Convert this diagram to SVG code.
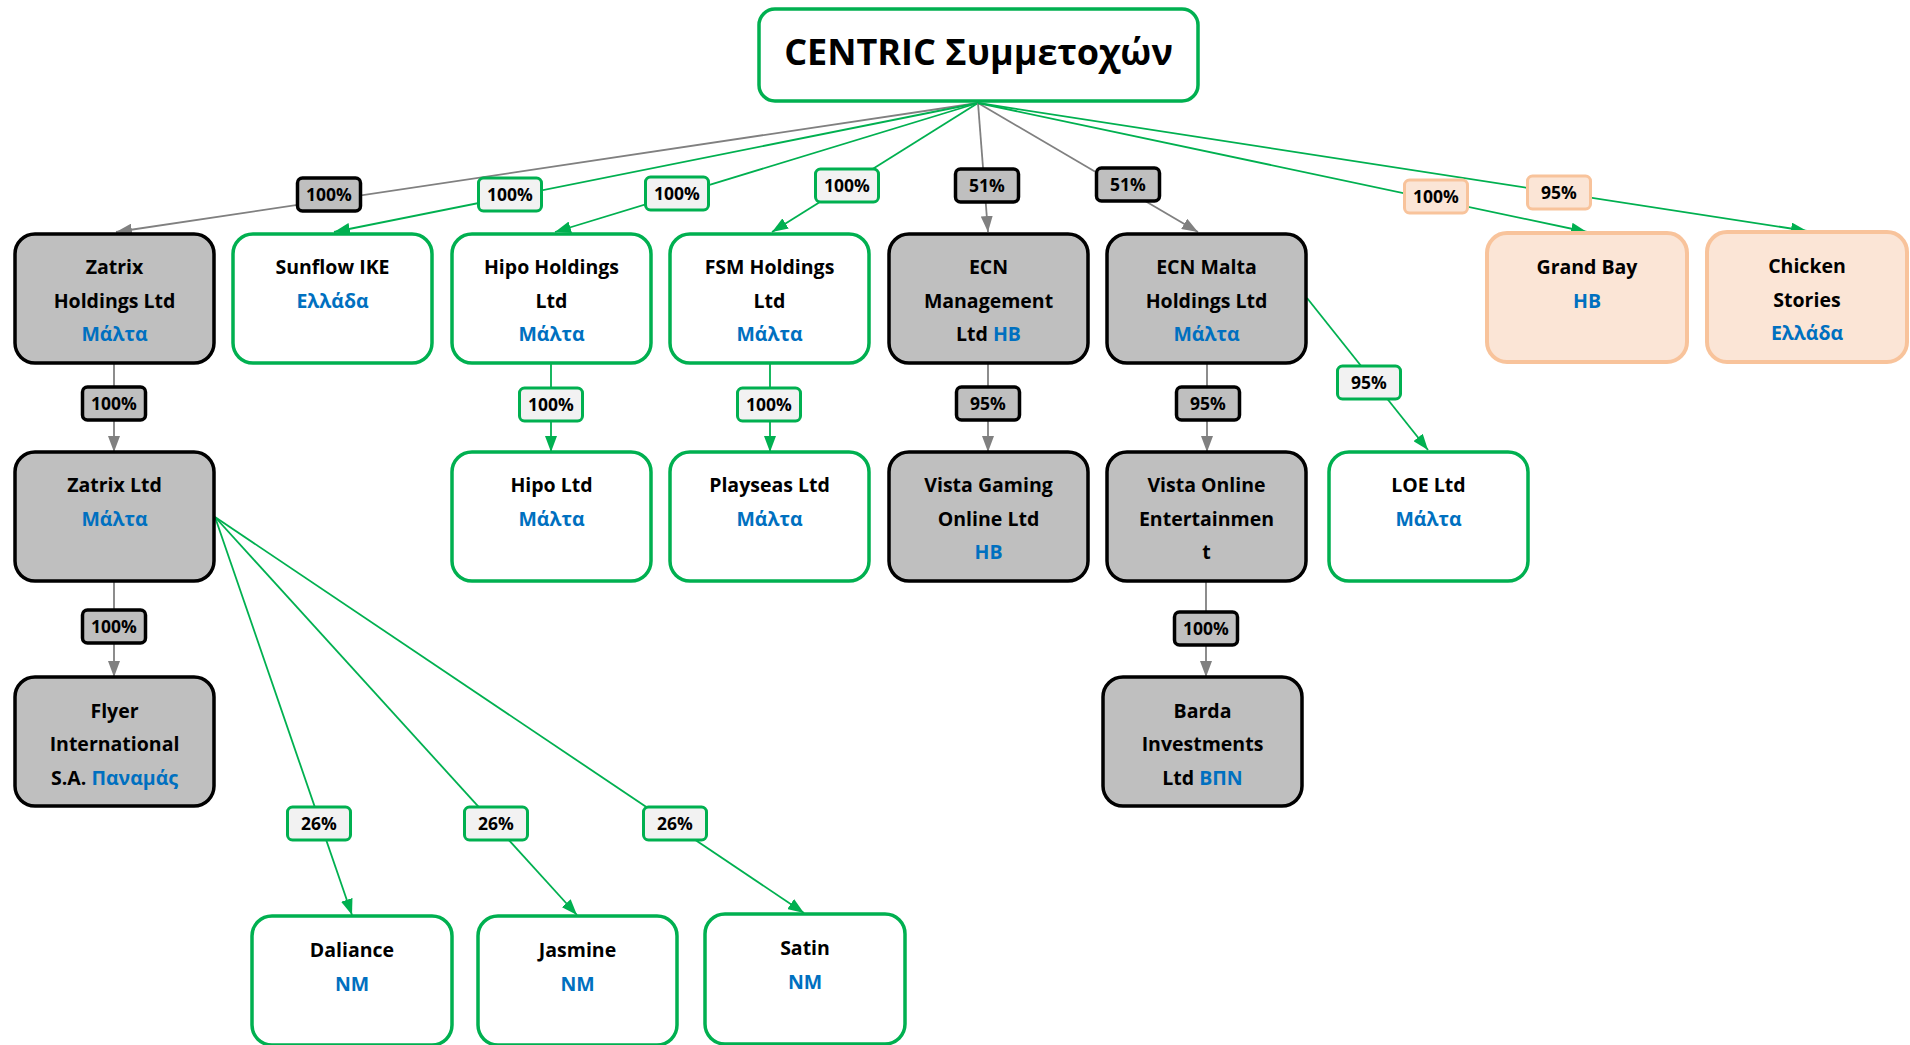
<svg xmlns="http://www.w3.org/2000/svg" width="1910" height="1045" viewBox="0 0 1910 1045">
<defs>
<style>
.t{font-family:"Open Sans","Noto Sans","DejaVu Sans",sans-serif;font-weight:700;font-size:19.5px;text-anchor:middle;fill:#000}
.b{fill:#0070C0}
.title{font-size:36px;font-weight:700}
.lt{font-size:17.5px}
.ng{fill:#BFBFBF;stroke:#000;stroke-width:3.5}
.nw{fill:#FFFFFF;stroke:#00B050;stroke-width:3.5}
.np{fill:#FBE5D6;stroke:#F8C39B;stroke-width:4}
.lg{fill:#BFBFBF;stroke:#000;stroke-width:3.5}
.lw{fill:#F2F2F2;stroke:#00B050;stroke-width:3}
.lp{fill:#FBE5D6;stroke:#F8C39B;stroke-width:3}
.cg{fill:none;stroke:#808080;stroke-width:1.8;marker-end:url(#ag)}
.cw{fill:none;stroke:#00B050;stroke-width:1.8;marker-end:url(#aw)}
</style>
<marker id="ag" markerUnits="userSpaceOnUse" markerWidth="16" markerHeight="12" refX="16" refY="6" orient="auto"><path d="M0,0 L16,6 L0,12 z" fill="#808080"/></marker>
<marker id="aw" markerUnits="userSpaceOnUse" markerWidth="16" markerHeight="12" refX="16" refY="6" orient="auto"><path d="M0,0 L16,6 L0,12 z" fill="#00B050"/></marker>
</defs>
<rect width="1910" height="1045" fill="#FFFFFF"/>

<g id="connectors">
<path class="cg" d="M978,103 L116,232"/>
<path class="cw" d="M978,103 L334,232"/>
<path class="cw" d="M978,103 L555,232"/>
<path class="cw" d="M978,103 L772,232"/>
<path class="cg" d="M978,103 L988,232"/>
<path class="cg" d="M978,103 L1198,232"/>
<path class="cw" d="M978,103 L1587,232"/>
<path class="cw" d="M978,103 L1807,231"/>
<path class="cg" d="M114,363 L114,452"/>
<path class="cg" d="M114,581 L114,677"/>
<path class="cw" d="M551,363 L551,452"/>
<path class="cw" d="M770,363 L770,452"/>
<path class="cg" d="M988,363 L988,452"/>
<path class="cg" d="M1207,363 L1207,452"/>
<path class="cg" d="M1206,581 L1206,677"/>
<path class="cw" d="M1307,298 L1428,450"/>
<path class="cw" d="M215,517 L352,915"/>
<path class="cw" d="M215,517 L577,915"/>
<path class="cw" d="M215,517 L804,913"/>
</g>

<g id="labels">
<g><rect class="lg" x="297.5" y="178" width="63" height="33" rx="5"/><text class="t lt" x="329" y="201">100%</text></g>
<g><rect class="lw" x="478.5" y="178" width="63" height="33" rx="5"/><text class="t lt" x="510" y="201">100%</text></g>
<g><rect class="lw" x="645.5" y="177" width="63" height="33" rx="5"/><text class="t lt" x="677" y="200">100%</text></g>
<g><rect class="lw" x="815.5" y="169" width="63" height="33" rx="5"/><text class="t lt" x="847" y="192">100%</text></g>
<g><rect class="lg" x="955.5" y="169" width="63" height="33" rx="5"/><text class="t lt" x="987" y="192">51%</text></g>
<g><rect class="lg" x="1096.5" y="168" width="63" height="33" rx="5"/><text class="t lt" x="1128" y="191">51%</text></g>
<g><rect class="lp" x="1404.5" y="180" width="63" height="33" rx="5"/><text class="t lt" x="1436" y="203">100%</text></g>
<g><rect class="lp" x="1527.5" y="176" width="63" height="33" rx="5"/><text class="t lt" x="1559" y="199">95%</text></g>
<g><rect class="lg" x="82.5" y="387" width="63" height="33" rx="5"/><text class="t lt" x="114" y="410">100%</text></g>
<g><rect class="lg" x="82.5" y="610" width="63" height="33" rx="5"/><text class="t lt" x="114" y="633">100%</text></g>
<g><rect class="lw" x="519.5" y="388" width="63" height="33" rx="5"/><text class="t lt" x="551" y="411">100%</text></g>
<g><rect class="lw" x="737.5" y="388" width="63" height="33" rx="5"/><text class="t lt" x="769" y="411">100%</text></g>
<g><rect class="lg" x="956.5" y="387" width="63" height="33" rx="5"/><text class="t lt" x="988" y="410">95%</text></g>
<g><rect class="lg" x="1176.5" y="387" width="63" height="33" rx="5"/><text class="t lt" x="1208" y="410">95%</text></g>
<g><rect class="lw" x="1337.5" y="366" width="63" height="33" rx="5"/><text class="t lt" x="1369" y="389">95%</text></g>
<g><rect class="lg" x="1174.5" y="612" width="63" height="33" rx="5"/><text class="t lt" x="1206" y="635">100%</text></g>
<g><rect class="lw" x="287.5" y="807" width="63" height="33" rx="5"/><text class="t lt" x="319" y="830">26%</text></g>
<g><rect class="lw" x="464.5" y="807" width="63" height="33" rx="5"/><text class="t lt" x="496" y="830">26%</text></g>
<g><rect class="lw" x="643.5" y="807" width="63" height="33" rx="5"/><text class="t lt" x="675" y="830">26%</text></g>
</g>

<g id="root"><rect class="nw" x="759" y="9" width="439" height="92" rx="16"/><text class="t title" x="978.5" y="65">CENTRIC Συμμετοχών</text></g>

<g id="zatrix-holdings"><rect class="ng" x="15" y="234" width="199" height="129" rx="20"/><text class="t" x="114.5" y="274">Zatrix</text><text class="t" x="114.5" y="308">Holdings Ltd</text><text class="t b" x="114.5" y="341">Μάλτα</text></g>
<g id="sunflow"><rect class="nw" x="233" y="234" width="199" height="129" rx="20"/><text class="t" x="332.5" y="274">Sunflow IKE</text><text class="t b" x="332.5" y="308">Ελλάδα</text></g>
<g id="hipo-holdings"><rect class="nw" x="452" y="234" width="199" height="129" rx="20"/><text class="t" x="551.5" y="274">Hipo Holdings</text><text class="t" x="551.5" y="308">Ltd</text><text class="t b" x="551.5" y="341">Μάλτα</text></g>
<g id="fsm-holdings"><rect class="nw" x="670" y="234" width="199" height="129" rx="20"/><text class="t" x="769.5" y="274">FSM Holdings</text><text class="t" x="769.5" y="308">Ltd</text><text class="t b" x="769.5" y="341">Μάλτα</text></g>
<g id="ecn-management"><rect class="ng" x="889" y="234" width="199" height="129" rx="20"/><text class="t" x="988.5" y="274">ECN</text><text class="t" x="988.5" y="308">Management</text><text class="t" x="988.5" y="341">Ltd <tspan class="b">HB</tspan></text></g>
<g id="ecn-malta"><rect class="ng" x="1107" y="234" width="199" height="129" rx="20"/><text class="t" x="1206.5" y="274">ECN Malta</text><text class="t" x="1206.5" y="308">Holdings Ltd</text><text class="t b" x="1206.5" y="341">Μάλτα</text></g>
<g id="grand-bay"><rect class="np" x="1487" y="233" width="200" height="129" rx="20"/><text class="t" x="1587" y="274">Grand Bay</text><text class="t b" x="1587" y="308">HB</text></g>
<g id="chicken-stories"><rect class="np" x="1707" y="232" width="200" height="130" rx="20"/><text class="t" x="1807" y="273">Chicken</text><text class="t" x="1807" y="307">Stories</text><text class="t b" x="1807" y="340">Ελλάδα</text></g>

<g id="zatrix-ltd"><rect class="ng" x="15" y="452" width="199" height="129" rx="20"/><text class="t" x="114.5" y="492">Zatrix Ltd</text><text class="t b" x="114.5" y="526">Μάλτα</text></g>
<g id="hipo-ltd"><rect class="nw" x="452" y="452" width="199" height="129" rx="20"/><text class="t" x="551.5" y="492">Hipo Ltd</text><text class="t b" x="551.5" y="526">Μάλτα</text></g>
<g id="playseas"><rect class="nw" x="670" y="452" width="199" height="129" rx="20"/><text class="t" x="769.5" y="492">Playseas Ltd</text><text class="t b" x="769.5" y="526">Μάλτα</text></g>
<g id="vista-gaming"><rect class="ng" x="889" y="452" width="199" height="129" rx="20"/><text class="t" x="988.5" y="492">Vista Gaming</text><text class="t" x="988.5" y="526">Online Ltd</text><text class="t b" x="988.5" y="559">HB</text></g>
<g id="vista-online"><rect class="ng" x="1107" y="452" width="199" height="129" rx="20"/><text class="t" x="1206.5" y="492">Vista Online</text><text class="t" x="1206.5" y="526">Entertainmen</text><text class="t" x="1206.5" y="559">t</text></g>
<g id="loe"><rect class="nw" x="1329" y="452" width="199" height="129" rx="20"/><text class="t" x="1428.5" y="492">LOE Ltd</text><text class="t b" x="1428.5" y="526">Μάλτα</text></g>

<g id="flyer"><rect class="ng" x="15" y="677" width="199" height="129" rx="20"/><text class="t" x="114.5" y="718">Flyer</text><text class="t" x="114.5" y="751">International</text><text class="t" x="114.5" y="785">S.A. <tspan class="b">Παναμάς</tspan></text></g>
<g id="barda"><rect class="ng" x="1103" y="677" width="199" height="129" rx="20"/><text class="t" x="1202.5" y="718">Barda</text><text class="t" x="1202.5" y="751">Investments</text><text class="t" x="1202.5" y="785">Ltd <tspan class="b">ΒΠΝ</tspan></text></g>

<g id="daliance"><rect class="nw" x="252" y="916" width="200" height="129" rx="20"/><text class="t" x="352" y="957">Daliance</text><text class="t b" x="352" y="991">NM</text></g>
<g id="jasmine"><rect class="nw" x="478" y="916" width="199" height="129" rx="20"/><text class="t" x="577.5" y="957">Jasmine</text><text class="t b" x="577.5" y="991">NM</text></g>
<g id="satin"><rect class="nw" x="705" y="914" width="200" height="130" rx="20"/><text class="t" x="805" y="955">Satin</text><text class="t b" x="805" y="989">NM</text></g>
</svg>
